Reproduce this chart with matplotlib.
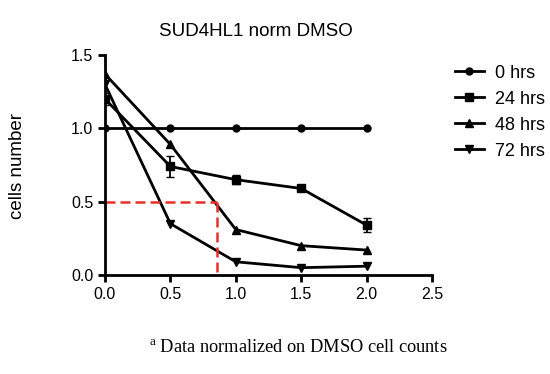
import matplotlib
matplotlib.use("Agg")
import matplotlib.pyplot as plt

plt.rcParams['font.family'] = ['Liberation Sans', 'DejaVu Sans']
plt.rcParams['mathtext.fontset'] = 'custom'
plt.rcParams['mathtext.rm'] = 'Liberation Serif'

# time points and normalized cell numbers
times = [0.0, 0.5, 1.0, 1.5, 2.0]
hrs0 = [1.0, 1.0, 1.0, 1.0, 1.0]
hrs24 = [1.20, 0.74, 0.65, 0.59, 0.34]
hrs24_err = [0.04, 0.07, 0.03, 0.02, 0.05]
hrs48 = [1.37, 0.89, 0.31, 0.20, 0.17]
hrs72 = [1.30, 0.35, 0.09, 0.05, 0.06]

series_labels = ["0 hrs", "24 hrs", "48 hrs", "72 hrs"]
half_x = 0.86
half_y = 0.5

x_ticks = [0.0, 0.5, 1.0, 1.5, 2.0, 2.5]
y_ticks = [0.0, 0.5, 1.0, 1.5]

fig = plt.figure(figsize=(5.5, 3.74), dpi=100)
ax = fig.add_axes([105 / 550, 1 - 275 / 374, 327 / 550, 220 / 374])

h0, = ax.plot(times, hrs0, color="black", lw=2, marker="o", ms=5)
h24 = ax.errorbar(times, hrs24, yerr=hrs24_err, color="black", lw=2, marker="s", ms=6,
                  capsize=3, elinewidth=1.3)
h48, = ax.plot(times, hrs48, color="black", lw=2, marker="^", ms=6)
h72, = ax.plot(times, hrs72, color="black", lw=2, marker="v", ms=6)

# red dashed guide at 50 %
ax.plot([0, half_x], [half_y, half_y], color="#e8302a", lw=1.8, ls=(0, (4, 2)))
ax.plot([half_x, half_x], [half_y, 0], color="#e8302a", lw=1.8, ls=(0, (4, 2)))

ax.set_xlim(0, 2.5)
ax.set_ylim(0, 1.5)
ax.set_xticks(x_ticks)
ax.set_yticks(y_ticks)
ax.set_xticklabels([f"{v:.1f}" for v in x_ticks])
ax.set_yticklabels([f"{v:.1f}" for v in y_ticks])
for s in ["top", "right"]:
    ax.spines[s].set_visible(False)
for s in ["left", "bottom"]:
    ax.spines[s].set_linewidth(2)
ax.tick_params(width=2, length=5, labelsize=11.5, color="black")

ax.set_title("SUD4HL1 norm DMSO", fontsize=13.5, pad=14, x=0.46)
fig.text(18 / 550, 1 - 166 / 374, "cells number", rotation=90, ha="center", va="center", fontsize=13.5)

ax.legend([h0, h24[0], h48, h72], series_labels, loc="upper left", bbox_to_anchor=(1.02, 1.03),
          frameon=False, fontsize=13, handlelength=1.6, labelspacing=0.5, borderaxespad=0.5,
          handletextpad=0.6)

fig.text(298 / 550, 1 - 348 / 374, "$^{\\mathrm{a}}$ Data normalized on DMSO cell counts",
         ha="center", va="center", fontsize=13.2, family=["Liberation Serif", "DejaVu Serif"])

fig.savefig("out.png", dpi=100)
